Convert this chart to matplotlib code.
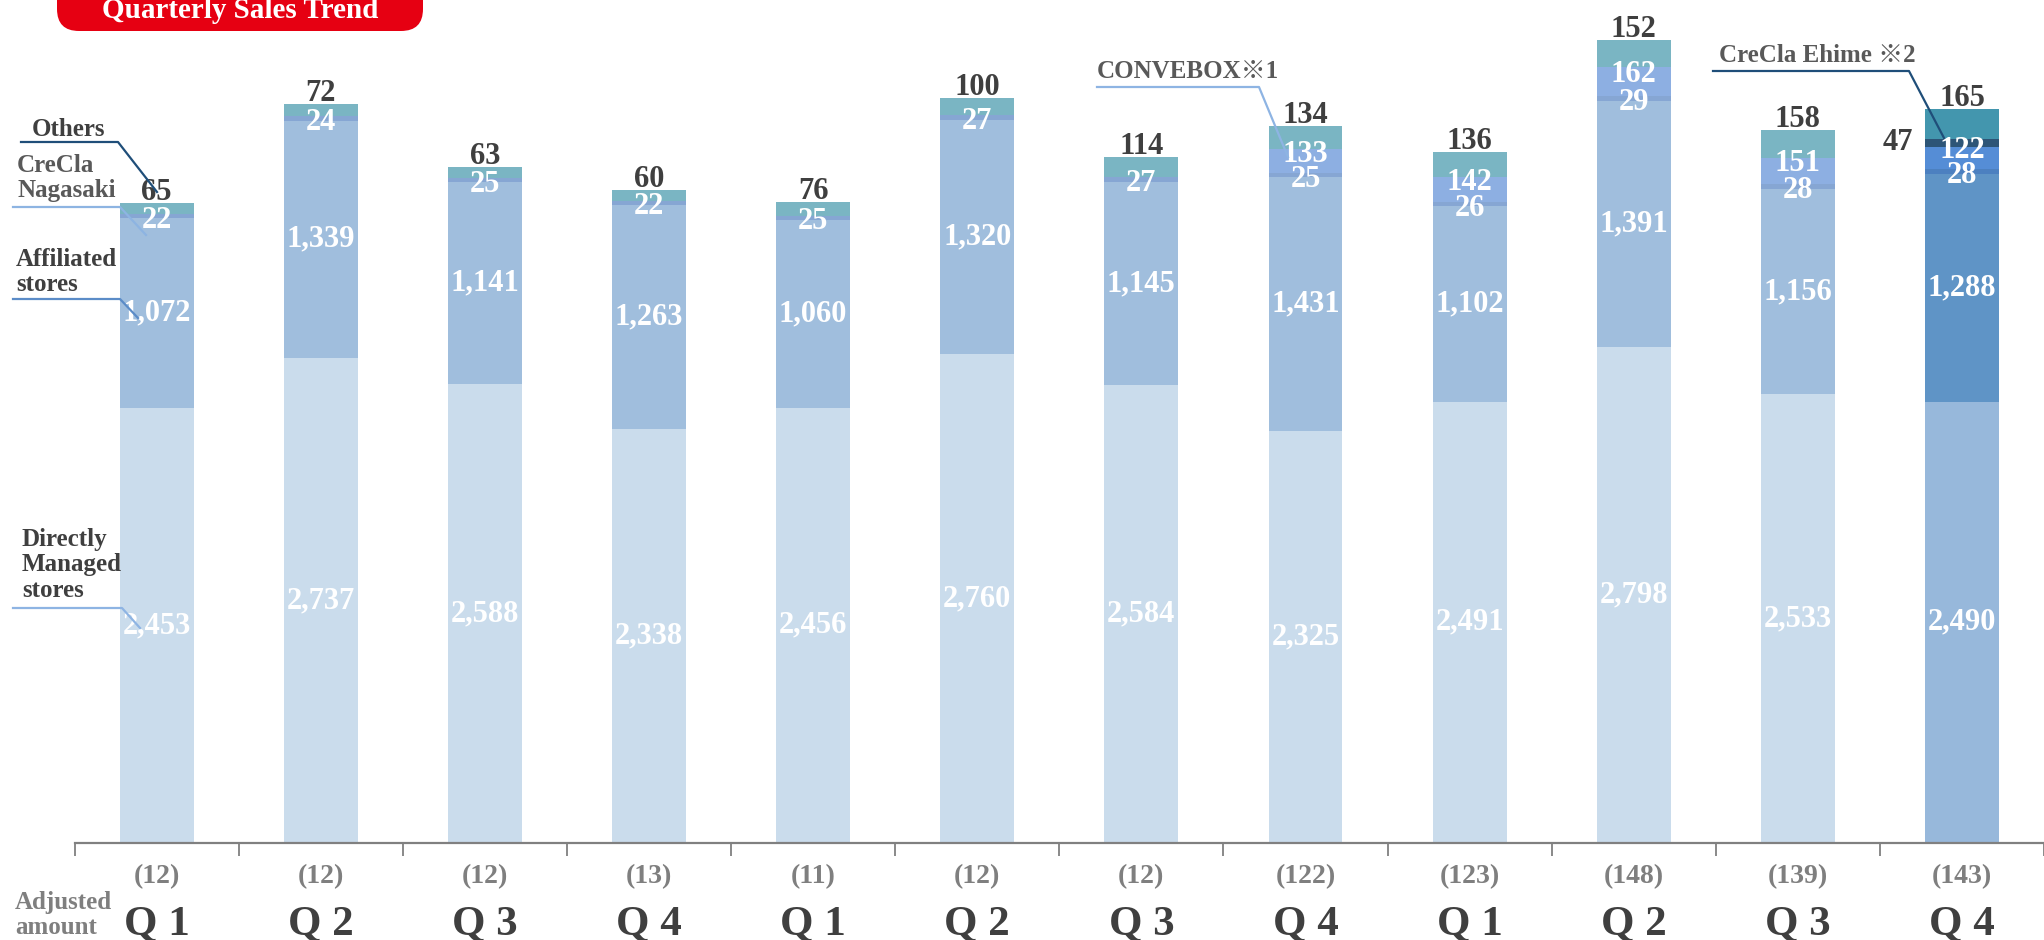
import numpy as np
import matplotlib.pyplot as plt
from matplotlib.lines import Line2D
from matplotlib.patches import FancyBboxPatch
from matplotlib.transforms import IdentityTransform, offset_copy

quarters = ['Q 1', 'Q 2', 'Q 3', 'Q 4'] * 3
adjusted = [12, 12, 12, 13, 11, 12, 12, 122, 123, 148, 139, 143]

directly = [2453, 2737, 2588, 2338, 2456, 2760, 2584, 2325, 2491, 2798, 2533, 2490]
affiliated = [1072, 1339, 1141, 1263, 1060, 1320, 1145, 1431, 1102, 1391, 1156, 1288]
nagasaki = [22, 24, 25, 22, 25, 27, 27, 25, 26, 29, 28, 28]
convebox = [0, 0, 0, 0, 0, 0, 0, 133, 142, 162, 151, 122]
ehime = [0, 0, 0, 0, 0, 0, 0, 0, 0, 0, 0, 47]
others = [65, 72, 63, 60, 76, 100, 114, 134, 136, 152, 158, 165]

W, H = 2044, 940
SERIF = ['Liberation Serif', 'DejaVu Serif', 'Noto Sans CJK JP']
DARK = '#3F3F3F'
GREY = '#7F7F7F'


def fx(x):
    return x / W


def fy(y):
    return 1 - y / H


fig = plt.figure(figsize=(W / 100, H / 100), dpi=100)
ax = fig.add_axes([fx(74.6), fy(843), 1 - fx(74.6), 843 / H])
ax.set_xlim(-0.5, -0.5 + (W - 74.6) / 165.6)
ax.set_ylim(0, 843 / 0.1772)

n = len(directly)
x = np.arange(n)
bw = 0.45

# last quarter is drawn in a darker palette
def cols(normal, last):
    return [normal] * (n - 1) + [last]

series = [
    (directly, cols('#CADCEC', '#97B8DB')),
    (affiliated, cols('#A0BEDD', '#5F94C6')),
    (nagasaki, cols('#86A6D3', '#4C80C0')),
    (convebox, cols('#8DAFE2', '#558DD6')),
    (ehime, cols('#2D5577', '#2D5577')),
    (others, cols('#7AB5C3', '#4396AE')),
]

bottom = np.zeros(n)
bottoms = []
for vals, c in series:
    vals = np.array(vals, dtype=float)
    ax.bar(x, vals, bw, bottom=bottom, color=c, linewidth=0)
    bottoms.append(bottom.copy())
    bottom = bottom + vals
totals = bottom

lab = dict(fontsize=22, fontweight='bold', family=SERIF, ha='center')


def shifted(dx_px, dy_px):
    return offset_copy(ax.transData, fig=fig, x=dx_px, y=dy_px, units='dots')


for i in range(n):
    b_dm, b_af, b_ng, b_cv, b_eh, b_ot = [bb[i] for bb in bottoms]
    ax.text(i, b_dm + directly[i] / 2, f'{directly[i]:,}', color='white', va='center', **lab)
    ax.text(i, b_af + affiliated[i] / 2, f'{affiliated[i]:,}', color='white', va='center', **lab)
    ax.text(i, b_ng + nagasaki[i] / 2, f'{nagasaki[i]}', color='white', va='center',
            transform=shifted(0, -4), **lab)
    if convebox[i]:
        ax.text(i, b_cv + convebox[i] / 2, f'{convebox[i]}', color='white', va='center',
                transform=shifted(0, 7), **lab)
    if ehime[i]:
        ax.text(i - bw / 2, b_eh + ehime[i] / 2, f'{ehime[i]}', color=DARK, va='center',
                transform=shifted(-12, 0), **{**lab, 'ha': 'right'})
    ax.text(i, totals[i], f'{others[i]}', color=DARK, va='baseline',
            transform=shifted(0, 3), **lab)

# axis: bottom line with ticks between quarters
for s in ['top', 'right', 'left']:
    ax.spines[s].set_visible(False)
ax.spines['bottom'].set_color('#808080')
ax.spines['bottom'].set_linewidth(1.6)
ax.set_yticks([])
ax.set_xticks(np.arange(-0.5, n, 1))
ax.set_xticklabels([])
ax.tick_params(axis='x', direction='out', length=9, width=1.3, color='#808080')

xt = ax.get_xaxis_transform()
for i in range(n):
    ax.text(i, (843 - 877) / 843, f'({adjusted[i]})', transform=xt, ha='center', va='center',
            fontsize=20, fontweight='bold', color=GREY, family=SERIF)
    ax.text(i, (843 - 935) / 843, quarters[i], transform=xt, ha='center', va='baseline',
            fontsize=31, fontweight='bold', color=DARK, family=SERIF)

fig.text(fx(15), fy(915), 'Adjusted\namount', ha='left', va='center', fontsize=18,
         fontweight='bold', color=GREY, family=SERIF, linespacing=1.15)

# series names with leader lines
side = dict(ha='left', va='center', fontsize=18, fontweight='bold', family=SERIF, linespacing=1.15)
fig.text(fx(32), fy(130), 'Others', color=DARK, **side)
fig.text(fx(17), fy(178), 'CreCla\nNagasaki', color='#595959', **side)
fig.text(fx(16), fy(272), 'Affiliated\nstores', color=DARK, **side)
fig.text(fx(22), fy(565), 'Directly\nManaged\nstores', color=DARK, **side)
fig.text(fx(1097), fy(72), 'CONVEBOX※1', color='#595959', **side)
fig.text(fx(1719), fy(55), 'CreCla Ehime ※2', color='#595959', **side)

leaders = [
    ([21, 118, 157], [142, 142, 192], '#1F4E79'),
    ([13, 120, 146], [207, 207, 235], '#8DB4E2'),
    ([13, 120, 138], [299, 299, 318], '#5B8CC8'),
    ([13, 122, 140], [608, 608, 628], '#8EB4E3'),
    ([1097, 1259, 1288], [87, 87, 157], '#8EB4E3'),
    ([1713, 1909, 1944], [71, 71, 138], '#1F4E79'),
]
for xs, ys, c in leaders:
    fig.add_artist(Line2D([fx(v) for v in xs], [fy(v) for v in ys], color=c, lw=1.6))

# title badge
badge = FancyBboxPatch((57, H - 31), 366, 80, boxstyle='round,pad=0,rounding_size=22',
                       facecolor='#E60012', edgecolor='none', transform=IdentityTransform())
fig.add_artist(badge)
fig.text(fx(240), fy(18), 'Quarterly Sales Trend', ha='center', va='baseline', fontsize=21,
         fontweight='bold', color='white', family=SERIF)

fig.savefig('out.png', dpi=100)
